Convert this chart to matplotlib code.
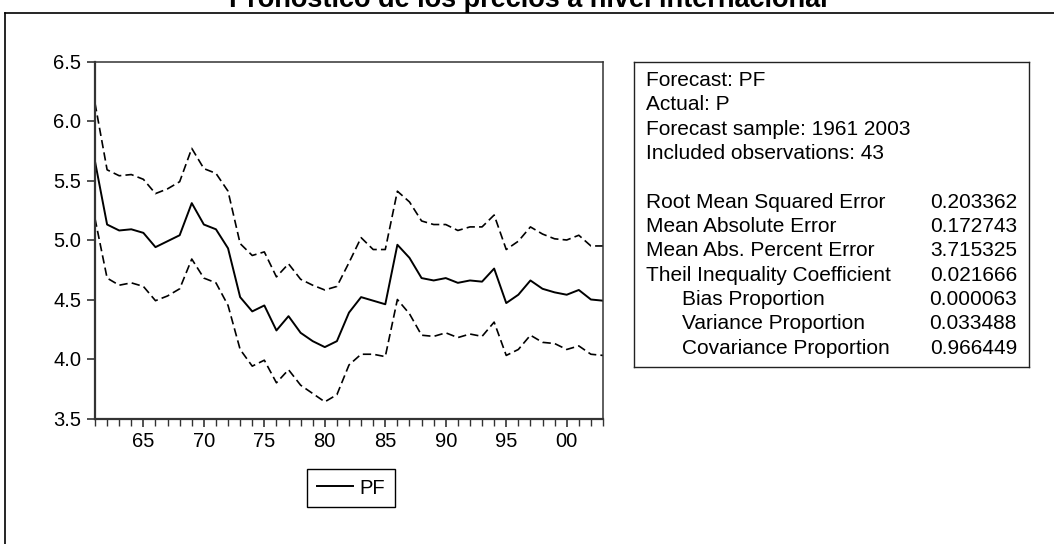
import numpy as np
import matplotlib
matplotlib.use('Agg')
import matplotlib.pyplot as plt
from matplotlib.lines import Line2D
from matplotlib.ticker import MultipleLocator, FuncFormatter

plt.rcParams['font.family'] = ['Liberation Sans', 'DejaVu Sans']

years = list(range(1961, 2004))

pf = [5.66, 5.13, 5.08, 5.09, 5.06, 4.94, 4.99, 5.04, 5.31, 5.13,
      5.09, 4.93, 4.52, 4.40, 4.45, 4.24, 4.36, 4.22, 4.15, 4.10,
      4.15, 4.39, 4.52, 4.49, 4.46, 4.96, 4.85, 4.68, 4.66, 4.68,
      4.64, 4.66, 4.65, 4.76, 4.47, 4.54, 4.66, 4.59, 4.56, 4.54,
      4.58, 4.50, 4.49]

upper = [6.15, 5.59, 5.54, 5.55, 5.51, 5.39, 5.43, 5.49, 5.77, 5.60,
         5.56, 5.41, 4.97, 4.87, 4.90, 4.69, 4.80, 4.67, 4.62, 4.58,
         4.61, 4.81, 5.02, 4.92, 4.92, 5.41, 5.32, 5.16, 5.13, 5.13,
         5.08, 5.11, 5.11, 5.21, 4.92, 4.99, 5.11, 5.05, 5.01, 5.00,
         5.04, 4.95, 4.95]

lower = [5.18, 4.68, 4.62, 4.64, 4.61, 4.49, 4.53, 4.59, 4.84, 4.68,
         4.64, 4.45, 4.08, 3.94, 3.99, 3.80, 3.91, 3.78, 3.71, 3.64,
         3.70, 3.95, 4.04, 4.04, 4.02, 4.50, 4.38, 4.20, 4.19, 4.22,
         4.18, 4.21, 4.19, 4.31, 4.03, 4.08, 4.20, 4.14, 4.13, 4.08,
         4.11, 4.04, 4.03]

header_lines = ['Forecast: PF', 'Actual: P', 'Forecast sample: 1961 2003',
                'Included observations: 43']
stat_names = ['Root Mean Squared Error', 'Mean Absolute Error',
              'Mean Abs. Percent Error', 'Theil Inequality Coefficient',
              'Bias Proportion', 'Variance Proportion', 'Covariance Proportion']
stat_values = ['0.203362', '0.172743', '3.715325', '0.021666',
               '0.000063', '0.033488', '0.966449']
stat_indent = [False, False, False, False, True, True, True]

W, H = 1054, 544
fig = plt.figure(figsize=(W / 100, H / 100), dpi=100)

def fx(px):
    return px / W

def fy(py):
    return 1 - py / H

# main plot
ax = fig.add_axes([fx(95), fy(418.5), fx(603 - 95), (418.5 - 61.5) / H])
ax.plot(years, upper, color='black', lw=1.2, ls=(0, (5, 2.5)))
ax.plot(years, pf, color='black', lw=1.4, label='PF')
ax.plot(years, lower, color='black', lw=1.2, ls=(0, (5, 2.5)))
ax.set_xlim(1961, 2003)
ax.set_ylim(3.5, 6.5)
ax.yaxis.set_major_locator(MultipleLocator(0.5))
ax.yaxis.set_major_formatter(FuncFormatter(lambda v, p: '%.1f' % v))
ax.xaxis.set_major_locator(MultipleLocator(5))
ax.xaxis.set_minor_locator(MultipleLocator(1))
ax.xaxis.set_major_formatter(FuncFormatter(lambda v, p: '%02d' % (int(round(v)) % 100)))
ax.tick_params(axis='both', which='major', direction='out', length=6, width=1.2,
               labelsize=14.5, color='#333333', labelcolor='black', pad=4)
ax.tick_params(axis='x', which='minor', direction='out', length=5, width=1.0, color='#333333')
for side in ['left', 'bottom']:
    ax.spines[side].set_linewidth(1.6)
    ax.spines[side].set_color('#333333')
for side in ['top', 'right']:
    ax.spines[side].set_linewidth(1.1)
    ax.spines[side].set_color('#333333')

leg = fig.legend(loc='center', bbox_to_anchor=(fx(351), fy(488)), fontsize=14.5,
                 frameon=True, fancybox=False, edgecolor='black', framealpha=1,
                 handlelength=1.8, handletextpad=0.35, borderpad=0.45, borderaxespad=0)
leg.get_frame().set_linewidth(1.0)

# statistics box
box = fig.add_axes([fx(634), fy(367), fx(1029 - 634), (367 - 62) / H])
box.set_xticks([])
box.set_yticks([])
for s in box.spines.values():
    s.set_linewidth(1.0)
    s.set_color('#222222')

fs = 15
y0, dy = 80.7, 24.3
for i, t in enumerate(header_lines):
    fig.text(fx(646), fy(y0 + i * dy), t, fontsize=fs, va='center', ha='left')
for j, (name, val, ind) in enumerate(zip(stat_names, stat_values, stat_indent)):
    yy = fy(y0 + (j + 5) * dy)
    fig.text(fx(682 if ind else 646), yy, name, fontsize=fs, va='center', ha='left')
    fig.text(fx(1017), yy, val, fontsize=fs, va='center', ha='right')

# outer frame and title (cut off at the top edge, as in the original)
fig.add_artist(Line2D([fx(5), 1], [fy(12.5), fy(12.5)], color='black', lw=1.2))
fig.add_artist(Line2D([fx(5), fx(5)], [0, fy(12.5)], color='black', lw=1.2))
fig.text(fx(528), fy(7), 'Pronóstico de los precios a nivel internacional',
         fontsize=19.5, fontweight='bold', ha='center', va='baseline')

fig.savefig('out.png', dpi=100, facecolor='white')
